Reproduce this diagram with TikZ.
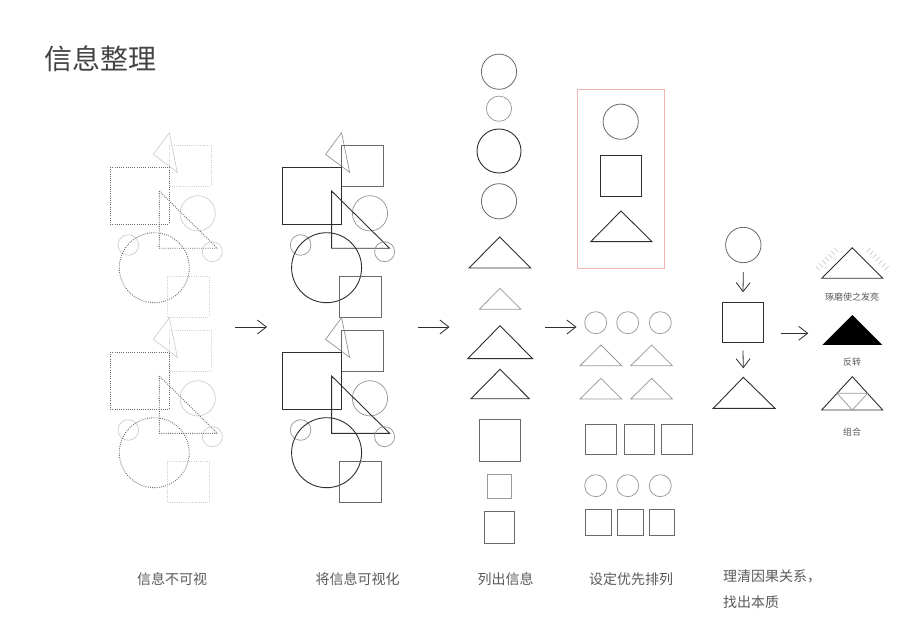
\documentclass[tikz,border=0pt]{standalone}
\usepackage{fontspec}
\setmainfont{Noto Sans CJK SC}
\usepackage{xcolor}
\usepackage{tikz}
\usetikzlibrary{positioning, arrows.meta, shapes.geometric, calc}
\definecolor{ink}{HTML}{2E2E2E}
\definecolor{mid}{HTML}{6A6A6A}
\definecolor{pale}{HTML}{9A9A9A}
\definecolor{faint}{HTML}{CFCFCF}
\definecolor{blush}{HTML}{F4B4B4}
\definecolor{caption}{HTML}{5A5A5A}

% one scattered heap of shapes: #1 main lines, #2 side squares, #3 small bits
\newcommand{\shapeheap}[3]{%
  \draw[#3] (169.3,132.7) -- (153.3,154.3) -- (177.3,172.3) -- cycle;
  \draw[#2] (169,145) rectangle (211,186);
  \draw[#1] (110,167) rectangle (169,224);
  \draw[#3] (197.7,213.3) circle[radius=17.6pt];
  \draw[#1] (159.3,191) -- (159.3,248.3) -- (217.3,248.3) -- cycle;
  \draw[#3] (128.3,245) circle[radius=10.3pt];
  \draw[#3] (212.3,251.7) circle[radius=10pt];
  \draw[#1] (154.3,267.7) circle[radius=35pt];
  \draw[#2] (167,276) rectangle (209,317);
}

\begin{document}
\begin{tikzpicture}[x=1pt,y=-1pt,
  title/.style={font=\fontsize{28}{30}\selectfont,text=ink!90,inner sep=0pt},
  stagelabel/.style={font=\fontsize{14}{16}\selectfont,text=caption,inner sep=0pt},
  tag/.style={font=\fontsize{9}{10}\selectfont,text=caption,inner sep=0pt},
  arr/.style={draw=ink,line width=0.8pt,-{Straight Barb[length=9pt,width=14pt]}},
  dotdark/.style={draw=mid,line width=0.9pt,dash pattern=on 0.9pt off 1.3pt},
  dotpale/.style={draw=faint,line width=0.9pt,dash pattern=on 0.9pt off 1.3pt},
  thinpale/.style={draw=faint,line width=0.7pt},
  bold/.style={draw=ink,line width=0.9pt},
  plain/.style={draw=mid,line width=0.8pt},
  soft/.style={draw=pale,line width=0.75pt},
  circ/.style={circle,draw=mid,line width=0.8pt,inner sep=0pt},
  sq/.style={rectangle,draw=ink,line width=0.8pt,inner sep=0pt}]
  \useasboundingbox (0,0) rectangle (900,636);
  \fill[white] (0,0) rectangle (900,636);

  \node[title,anchor=west] (head) at (44,59) {信息整理};

  % heaps, before and after
  \foreach \dy in {0,185} {
    \begin{scope}[shift={(0,\dy)}]
      \shapeheap{dotdark}{dotpale}{thinpale}
    \end{scope}
    \begin{scope}[shift={(172.3,\dy)}]
      \shapeheap{bold}{plain}{soft}
    \end{scope}
  }

  % listed column
  \draw[plain] (499,71.7) circle[radius=17.6pt];
  \draw[soft] (499,108.7) circle[radius=12.6pt];
  \draw[bold] (499,151) circle[radius=22pt];
  \draw[plain] (499,201.3) circle[radius=17.6pt];
  \draw[bold] (499.7,237) -- (469,268) -- (530.7,268) -- cycle;
  \draw[soft] (500,288.3) -- (479.3,309.3) -- (521,309.3) -- cycle;
  \draw[bold] (500,325.7) -- (467.7,358.7) -- (532.7,358.7) -- cycle;
  \draw[bold] (500,369.3) -- (471,398.7) -- (529.3,398.7) -- cycle;
  \draw[plain] (479,419.3) rectangle (520,461);
  \draw[soft] (487.3,474.3) rectangle (511.7,498.3);
  \draw[plain] (484.3,511) rectangle (514.3,543.3);

  % priority column
  \draw[blush,line width=0.9pt] (577.3,89) rectangle (664.3,268.3);
  \draw[plain] (620.7,121.7) circle[radius=17.6pt];
  \draw[bold] (600.3,155.7) rectangle (641,196.3);
  \draw[bold] (621,211) -- (590.7,241.7) -- (652,241.7) -- cycle;
  \foreach \cx in {595.7,627.7,660.3} {
    \draw[soft] (\cx,322.7) circle[radius=11pt];
    \draw[soft] (\cx,485.7) circle[radius=11pt];
  }
  \foreach \tx in {0,50.7} {
    \draw[soft] (601+\tx,345) -- (580+\tx,365.7) -- (621.7+\tx,365.7) -- cycle;
    \draw[soft] (601+\tx,378.3) -- (580+\tx,399) -- (621.7+\tx,399) -- cycle;
  }
  \foreach \sx in {585.7,624.3,661.7}
    \draw[plain] (\sx,424) rectangle ++(30.5,30.5);
  \foreach \sx in {585.7,617.7,649}
    \draw[plain] (\sx,509) rectangle ++(25.8,26);

  % cause and effect
  \node[circ,minimum size=35.4pt] (cause) at (743.3,245) {};
  \node[sq,minimum size=40.6pt] (core) at (743,322.5) {};
  \coordinate (tip) at (743.3,377.3);
  \draw[bold] (tip) -- (713.3,408.3) -- (775,408.3) -- cycle;
  \draw[arr] ([yshift=-9pt]cause.south) -- ([yshift=9.6pt]core.north);
  \draw[arr] ([yshift=-7.3pt]core.south) -- ([yshift=9pt]tip);

  % three ways out
  \coordinate (glow) at (852.3,247.7);
  \draw[bold] (glow) -- (821.7,278.3) -- (882.7,278.3) -- cycle;
  \foreach \t in {0.1,0.2,0.3,0.4,0.5,0.6,0.7} {
    \draw[faint,line width=0.7pt] ($(821.7,278.3)!\t!(glow)+(-5,-5)$) -- ++(-4,-4);
    \draw[faint,line width=0.7pt] ($(882.7,278.3)!\t!(glow)+(5,-5)$) -- ++(4,-4);
  }
  \node[tag] (polish) at (852,297) {琢磨使之发亮};
  \fill[black] (852.3,315) -- (822.3,345) -- (882.3,345) -- cycle;
  \node[tag] (flip) at (852,362) {反转};
  \coordinate (peak) at (852.3,376.7);
  \draw[bold] (peak) -- (821.7,410) -- (882.7,410) -- cycle;
  \draw[soft] (837,393.3) -- (867.6,393.3) -- (852.3,410) -- cycle;
  \node[tag] (merge) at (852,432) {组合};

  % arrows between stages
  \coordinate (a1) at (235,327);  \coordinate (b1) at (267,327);
  \coordinate (a2) at (418,327);  \coordinate (b2) at (449.5,327);
  \coordinate (a3) at (545,327);  \coordinate (b3) at (576.5,327);
  \coordinate (a4) at (781,333.3); \coordinate (b4) at (808.3,333.3);
  \draw[arr] (a1) -- (b1);
  \draw[arr] (a2) -- (b2);
  \draw[arr] (a3) -- (b3);
  \draw[arr] (a4) -- (b4);

  % captions
  \node[stagelabel] (hide) at (172,579) {信息不可视};
  \node[stagelabel] (show) at (357.5,579) {将信息可视化};
  \node[stagelabel] (list) at (505.5,579) {列出信息};
  \node[stagelabel] (rank) at (631,579) {设定优先排列};
  \node[stagelabel,anchor=west] (cause1) at (723,576) {理清因果关系，};
  \node[stagelabel,anchor=west] (cause2) at (723,602) {找出本质};
\end{tikzpicture}
\end{document}
